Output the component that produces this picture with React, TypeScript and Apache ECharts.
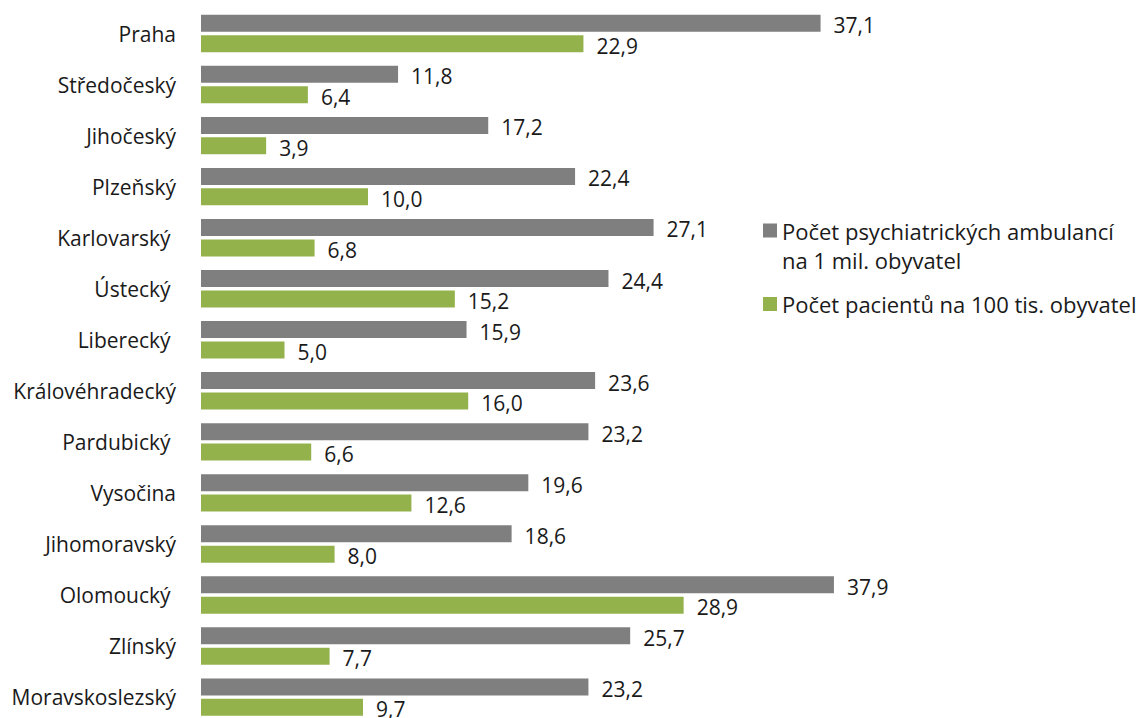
import React, { useEffect, useRef } from "react";
import * as echarts from "echarts";

const categories = [
  "Praha",
  "Středočeský",
  "Jihočeský",
  "Plzeňský",
  "Karlovarský ",
  "Ústecký ",
  "Liberecký ",
  "Královéhradecký",
  "Pardubický ",
  "Vysočina",
  "Jihomoravský",
  "Olomoucký ",
  "Zlínský",
  "Moravskoslezský",
];

const ambulanceName = "Počet psychiatrických ambulancí\nna 1 mil. obyvatel";
const patientName = "Počet pacientů na 100 tis. obyvatel";

const ambulances = [37.1, 11.8, 17.2, 22.4, 27.1, 24.4, 15.9, 23.6, 23.2, 19.6, 18.6, 37.9, 25.7, 23.2];
const patients = [22.9, 6.4, 3.9, 10.0, 6.8, 15.2, 5.0, 16.0, 6.6, 12.6, 8.0, 28.9, 7.7, 9.7];

const FONT = "'Open Sans', sans-serif";
const TEXT = "#1a1a1a";
const FS = 21;
const LEGEND_FS = 22;

const fmt = (p: any) => Number(p.value).toFixed(1).replace(".", ",");

export default function App() {
  const ref = useRef<HTMLDivElement>(null);
  useEffect(() => {
    if (!ref.current) return;
    const chart = echarts.init(ref.current, null, { renderer: "svg" });
    const label = {
      show: true,
      position: "right",
      distance: 13,
      offset: [0, 2],
      color: TEXT,
      fontSize: FS,
      fontFamily: FONT,
      formatter: fmt,
    };
    chart.setOption({
      animation: false,
      backgroundColor: "#ffffff",
      textStyle: { fontFamily: FONT },
      grid: { left: 201, top: 8, width: 668, height: 714.6, containLabel: false },
      xAxis: {
        type: "value",
        min: 0,
        max: 40,
        show: false,
      },
      yAxis: {
        type: "category",
        inverse: true,
        data: categories,
        axisLine: { show: false },
        axisTick: { show: false },
        axisLabel: { color: TEXT, fontSize: FS, margin: 25, fontFamily: FONT },
      },
      legend: [
        {
          left: 758,
          top: 182,
          orient: "vertical",
          itemWidth: 14,
          itemHeight: 14,
          icon: "rect",
          data: [ambulanceName],
          formatter: (name: string) => "\n" + name,
          textStyle: { color: TEXT, fontSize: LEGEND_FS, fontFamily: FONT, lineHeight: 29 },
        },
        {
          left: 758,
          top: 288,
          orient: "vertical",
          itemWidth: 14,
          itemHeight: 14,
          icon: "rect",
          data: [patientName],
          textStyle: { color: TEXT, fontSize: LEGEND_FS, fontFamily: FONT },
        },
      ],
      series: [
        {
          name: ambulanceName,
          type: "bar",
          data: ambulances,
          barWidth: 17,
          barGap: "20%",
          itemStyle: { color: "#7f7f7f" },
          label,
        },
        {
          name: patientName,
          type: "bar",
          data: patients,
          barWidth: 17,
          itemStyle: { color: "#94b24c" },
          label,
        },
      ],
    });
    return () => chart.dispose();
  }, []);
  return (
    <div
      style={{
        position: "absolute",
        left: 0,
        top: 0,
        width: 1139,
        height: 718,
        overflow: "hidden",
      }}
    >
      <div ref={ref} style={{ width: 1139, height: 730 }} />
    </div>
  );
}
